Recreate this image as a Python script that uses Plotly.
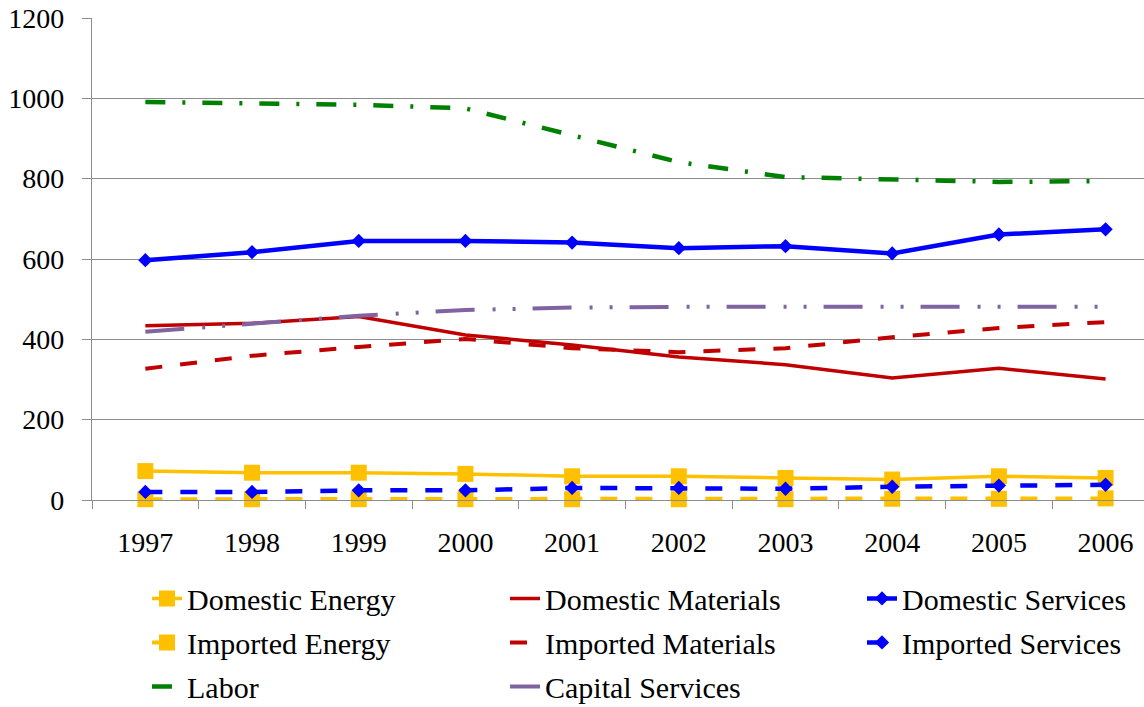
import plotly.graph_objects as go

years = ['1997', '1998', '1999', '2000', '2001', '2002', '2003', '2004', '2005', '2006']
domestic_energy = [72, 68, 68, 65, 59, 59, 55, 51, 59, 55]
domestic_materials = [434, 440, 457, 411, 386, 356, 337, 304, 328, 301]
domestic_services = [597, 617, 645, 645, 641, 627, 632, 614, 661, 674]
imported_energy = [2, 2, 2, 2, 2, 2, 2, 3, 3, 4]
imported_materials = [327, 359, 381, 401, 378, 368, 378, 405, 428, 443]
imported_services = [20, 20, 24, 24, 30, 30, 28, 33, 36, 38]
labor = [991, 988, 984, 975, 908, 841, 804, 798, 792, 794]
capital_services = [419, 440, 459, 473, 479, 481, 481, 480, 480, 481]

FONT = "Liberation Serif"
YEL, RED, BLUE, GREEN, PURP = "#FFC000", "#C00000", "#0000FF", "#008000", "#8064A2"
DASH = "17px,18px"

series = [
    ("Domestic Energy", domestic_energy, YEL, 3.5, "solid", "square", 16, "legend"),
    ("Domestic Materials", domestic_materials, RED, 3.5, "solid", None, 0, "legend2"),
    ("Domestic Services", domestic_services, BLUE, 4.5, "solid", "diamond", 11, "legend3"),
    ("Imported Energy", imported_energy, YEL, 4, DASH, "square", 16, "legend"),
    ("Imported Materials", imported_materials, RED, 4, DASH, None, 0, "legend2"),
    ("Imported Services", imported_services, BLUE, 4.5, DASH, "diamond", 11, "legend3"),
    ("Labor", labor, GREEN, 4.5, "20px,17px,3px,17px", None, 0, "legend"),
    ("Capital Services", capital_services, PURP, 4, "39px,18px,3px,17px,3px,17px", None, 0, "legend2"),
]

fig = go.Figure()
for i, (name, vals, col, w, dash, sym, size, leg) in enumerate(series):
    kw = dict(x=years, y=vals, name=name, legend=leg, legendgroup="g%d" % i,
              cliponaxis=False, line=dict(color=col, width=w, dash=dash))
    if sym:
        kw["mode"] = "lines+markers"
        kw["marker"] = dict(symbol=sym, size=size, color=col, line=dict(width=0))
    else:
        kw["mode"] = "lines"
    fig.add_trace(go.Scatter(**kw))

W, H = 1144, 707
L, R, T = 92, 0, 18
B = H - 500.5
pw = W - L - R
ph = H - T - B

def px_x(p):
    return (p - L) / pw

def px_y(p):
    return (H - B - p) / ph

legfont = dict(family=FONT, size=30, color="black")
leg_common = dict(orientation="v", xanchor="left", yanchor="top", bgcolor="rgba(0,0,0,0)",
                  font=legfont, tracegroupgap=2, itemsizing="trace")

fig.update_layout(
    width=W, height=H,
    margin=dict(l=L, r=R, t=T, b=B, pad=0, autoexpand=False),
    paper_bgcolor="white", plot_bgcolor="white",
    font=dict(family=FONT, size=28, color="black"),
    legend=dict(x=px_x(147), y=px_y(573), **leg_common),
    legend2=dict(x=px_x(505), y=px_y(573), **leg_common),
    legend3=dict(x=px_x(862), y=px_y(573), **leg_common),
    xaxis=dict(type="category", range=[-0.5, 9.36], tickson="boundaries",
               ticks="outside", ticklen=8, tickcolor="#8C8C8C", tickwidth=1.3,
               showline=True, linecolor="#8C8C8C", linewidth=1.3, showgrid=False,
               tickfont=dict(family=FONT, size=28, color="black"), ticklabelstandoff=17,
               ticklabeloverflow="allow"),
    yaxis=dict(range=[0, 1200], dtick=200, tick0=0, ticks="outside", ticklen=9,
               tickcolor="#8C8C8C", tickwidth=1.3, showline=True, linecolor="#8C8C8C",
               linewidth=1.3, showgrid=True, gridcolor="#8C8C8C", gridwidth=1.3,
               zeroline=False, tickfont=dict(family=FONT, size=28, color="black"),
               ticklabelstandoff=12, ticklabeloverflow="allow"),
)

fig.write_html("out.html", config={"displayModeBar": False},
               post_script="document.body.style.margin='0px';")
